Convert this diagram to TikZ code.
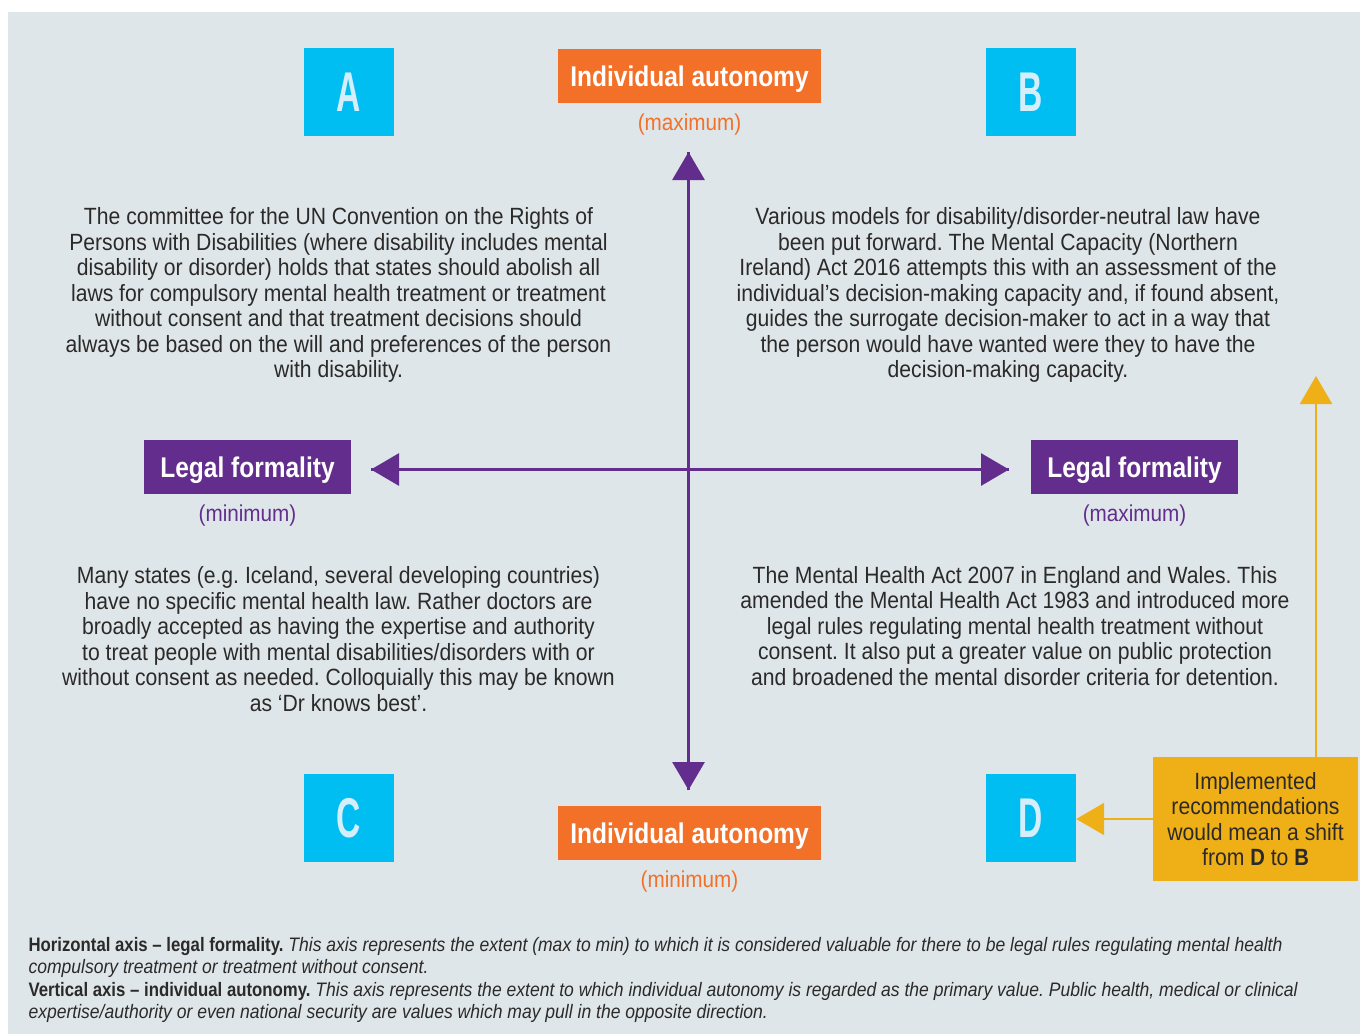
\documentclass[tikz,border=0pt]{standalone}
\usepackage{fontspec}
\setmainfont[FakeStretch=0.9]{Liberation Sans}
\newfontfamily\headfont[FakeStretch=0.86]{Liberation Sans}
\newfontfamily\letterfont[FakeStretch=0.6]{Liberation Sans}
\usetikzlibrary{arrows.meta,positioning}
\frenchspacing

\definecolor{panel}{HTML}{DFE6EA}
\definecolor{quadcyan}{HTML}{00BEF2}
\definecolor{lettertint}{HTML}{D4EEFB}
\definecolor{autorange}{HTML}{F37029}
\definecolor{legalpurple}{HTML}{622D8C}
\definecolor{shiftyellow}{HTML}{EFAF17}
\definecolor{bodyink}{HTML}{2B2A29}

\tikzset{
  letterbox/.style={fill=quadcyan,text=lettertint,minimum width=90pt,minimum height=88pt,
    inner sep=0pt,font=\letterfont\bfseries\fontsize{56}{56}\selectfont},
  polebox/.style={fill=#1,text=white,minimum height=54pt,inner sep=0pt,text depth=0pt,
    font=\headfont\bfseries\fontsize{28.5}{28.5}\selectfont},
  polesub/.style={text=#1,font=\fontsize{23}{25}\selectfont},
  blurb/.style={align=center,text=bodyink,font=\fontsize{23.5}{25.5}\selectfont},
  axis/.style={legalpurple,line width=3pt,-{Triangle[width=32pt,length=28pt]}},
  shiftarrow/.style={shiftyellow,line width=2.2pt,-{Triangle[width=32pt,length=28pt]}},
}

\begin{document}
\begin{tikzpicture}[x=1pt,y=-1pt]
  \useasboundingbox (0,0) rectangle (1360,1034);
  \fill[panel] (8,12) rectangle (1360,1034);

  % Pole label + its (min/max) line underneath: name, x, y, colour, width, text, sub
  \newcommand{\poletag}[7]{%
    \node[polebox=#4,minimum width=#5pt] (#1) at (#2,#3) {#6};
    \node[polesub=#4] (#1sub) at ([yshift=-21pt]#1.south) {#7};
  }

  % Quadrant letters
  \node[letterbox] (A) at (349,92) {A};
  \node[letterbox] (B) at (1031,92) {B};
  \node[letterbox] (C) at (349,818) {C};
  \node[letterbox] (D) at (1031,818) {D};

  % Axis ends
  \poletag{autmax}{689.5}{76}{autorange}{263}{Individual autonomy}{(maximum)}
  \poletag{autmin}{689.5}{833}{autorange}{263}{Individual autonomy}{(minimum)}
  \poletag{legmin}{247.5}{467}{legalpurple}{207}{Legal formality}{(minimum)}
  \poletag{legmax}{1134.5}{467}{legalpurple}{207}{Legal formality}{(maximum)}

  \coordinate (vtop) at (688.5,152);
  \coordinate (vbot) at (688.5,790);
  \coordinate (hleft) at (371,469.5);
  \coordinate (hright) at (1009,469.5);
  \draw[axis] (vbot) -- (vtop);
  \draw[axis] (vtop) -- (vbot);
  \draw[axis] (hright) -- (hleft);
  \draw[axis] (hleft) -- (hright);

  % Quadrant texts
  \node[blurb] (textA) at (338.5,295) {The committee for the UN Convention on the Rights of\\
    Persons with Disabilities (where disability includes mental\\
    disability or disorder) holds that states should abolish all\\
    laws for compulsory mental health treatment or treatment\\
    without consent and that treatment decisions should\\
    always be based on the will and preferences of the person\\
    with disability.};
  \node[blurb] (textB) at (1008,295) {Various models for disability/disorder-neutral law have\\
    been put forward. The Mental Capacity (Northern\\
    Ireland) Act 2016 attempts this with an assessment of the\\
    individual’s decision-making capacity and, if found absent,\\
    guides the surrogate decision-maker to act in a way that\\
    the person would have wanted were they to have the\\
    decision-making capacity.};
  \node[blurb] (textC) at (338.5,639) {Many states (e.g. Iceland, several developing countries)\\
    have no specific mental health law. Rather doctors are\\
    broadly accepted as having the expertise and authority\\
    to treat people with mental disabilities/disorders with or\\
    without consent as needed. Colloquially this may be known\\
    as ‘Dr knows best’.};
  \node[blurb] (textD) at (1015,626) {The Mental Health Act 2007 in England and Wales. This\\
    amended the Mental Health Act 1983 and introduced more\\
    legal rules regulating mental health treatment without\\
    consent. It also put a greater value on public protection\\
    and broadened the mental disorder criteria for detention.};

  % Recommended shift D -> B
  \node[blurb,fill=shiftyellow,minimum width=205pt,minimum height=124pt,inner sep=0pt]
    (shift) at (1255.5,819) {Implemented\\recommendations\\would mean a shift\\
    from {\headfont\bfseries D} to {\headfont\bfseries B}};
  \coordinate (shifttip) at (1316,376);
  \draw[shiftarrow] (shift.north -| shifttip) -- (shifttip);
  \draw[shiftarrow] (shift.west) -- (shift.west -| D.east);

  % Key
  \node[anchor=west,align=left,text=bodyink,font=\fontsize{19.5}{22.5}\selectfont] (key) at (25,980)
    {{\headfont\bfseries Horizontal axis – legal formality.} \textit{This axis represents the extent (max to min) to which it is considered valuable for there to be legal rules regulating mental health}\\
    \textit{compulsory treatment or treatment without consent.}\\
    {\headfont\bfseries Vertical axis – individual autonomy.} \textit{This axis represents the extent to which individual autonomy is regarded as the primary value. Public health, medical or clinical}\\
    \textit{expertise/authority or even national security are values which may pull in the opposite direction.}};
\end{tikzpicture}
\end{document}
